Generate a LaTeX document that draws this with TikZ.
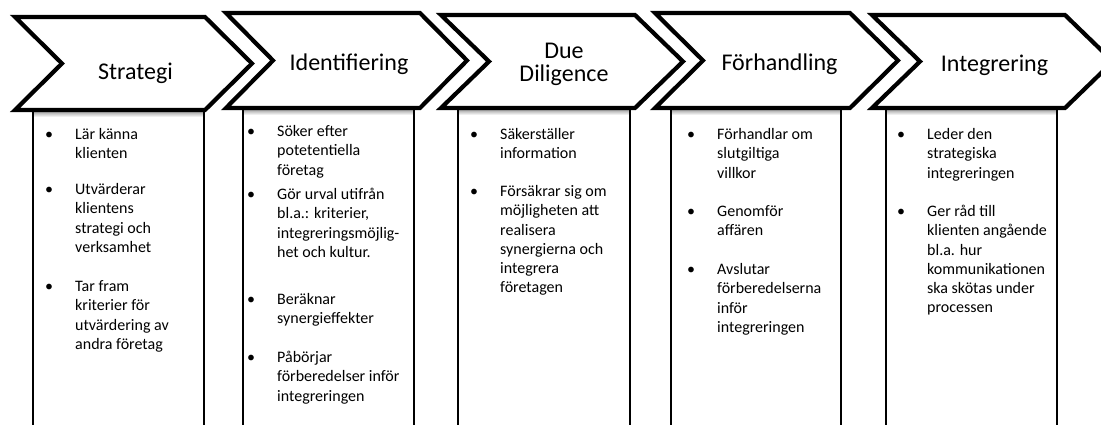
\documentclass[tikz,border=0pt]{standalone}
\usepackage{fontspec}
\setmainfont{Carlito}
\newcommand\bulletitem[1]{\begin{tabular}[t]{@{}l@{}}\llap{•\hspace{22pt}}#1\end{tabular}}
\begin{document}
\begin{tikzpicture}[x=1pt,y=-1pt,
  chev/.style={draw=black, line width=4.2pt, fill=white, line join=miter},
  colbox/.style={draw=black, line width=2.4pt, fill=white},
  boxshadow/.style={top color=black!45, bottom color=white},
  phase/.style={inner sep=0pt, font=\fontsize{24}{23.4}\selectfont, anchor=base},
  itm/.style={inner sep=0pt, font=\fontsize{16}{19.3}\selectfont, anchor=base west}]
\useasboundingbox (0,0) rectangle (1101,425);
\clip (0,0) rectangle (1101,425);
\fill[white] (0,0) rectangle (1101,425);

% columns under the arrows
\draw[colbox] (33,110) rectangle (204,440);
\draw[colbox] (243,108) rectangle (414,440);
\draw[colbox] (458,108) rectangle (630,440);
\draw[colbox] (671,108) rectangle (841,440);
\draw[colbox] (886,108) rectangle (1057,440);
\shade[boxshadow] (34.2,110) rectangle (202.8,117);
\shade[boxshadow] (244.2,108) rectangle (412.8,115);
\shade[boxshadow] (459.2,108) rectangle (628.8,115);
\shade[boxshadow] (672.2,108) rectangle (839.8,115);
\shade[boxshadow] (887.2,108) rectangle (1055.8,115);

% process arrows
\draw[chev] (15,17) -- (205,17) -- (252,63.5) -- (205,110) -- (15,110) -- (62,63.5) -- cycle;
\draw[chev] (226,13) -- (420,13) -- (467,60.5) -- (420,108) -- (226,108) -- (273,60.5) -- cycle;
\draw[chev] (441,15) -- (635,15) -- (683,61.5) -- (635,108) -- (441,108) -- (489,61.5) -- cycle;
\draw[chev] (655,13) -- (850,13) -- (898,60.5) -- (850,108) -- (655,108) -- (703,60.5) -- cycle;
\draw[chev] (872,15) -- (1065,15) -- (1113,61.5) -- (1065,108) -- (872,108) -- (920,61.5) -- cycle;

% phase titles
\node[phase] (t1) at (135.5,80) {Strategi};
\node[phase] (t2) at (349,70.7) {Identifiering};
\node[phase] (t3) at (564,58.3) {\begin{tabular}[t]{@{}c@{}}Due\\Diligence\end{tabular}};
\node[phase] (t4) at (779.5,70.7) {Förhandling};
\node[phase] (t5) at (994.5,71.7) {Integrering};

% activities
\node[itm] (a1) at (75,139.5) {\bulletitem{Lär känna\\klienten}};
\node[itm] (a2) at (75,194.5) {\bulletitem{Utvärderar\\klientens\\strategi och\\verksamhet}};
\node[itm] (a3) at (75,291.5) {\bulletitem{Tar fram\\kriterier för\\utvärdering av\\andra företag}};

\node[itm] (b1) at (277,136.5) {\bulletitem{Söker efter\\potetentiella\\företag}};
\node[itm] (b2) at (277,199.5) {\bulletitem{Gör urval utifrån\\bl.a.: kriterier,\\integreringsmöjlig-\\het och kultur.}};
\node[itm] (b3) at (277,304.5) {\bulletitem{Beräknar\\synergieffekter}};
\node[itm] (b4) at (277,362.5) {\bulletitem{Påbörjar\\förberedelser inför\\integreringen}};

\node[itm] (c1) at (500,139.5) {\bulletitem{Säkerställer\\information}};
\node[itm] (c2) at (500,196.5) {\bulletitem{Försäkrar sig om\\möjligheten att\\realisera\\synergierna och\\integrera\\företagen}};

\node[itm] (d1) at (717,139.5) {\bulletitem{Förhandlar om\\slutgiltiga\\villkor}};
\node[itm] (d2) at (717,216.5) {\bulletitem{Genomför\\affären}};
\node[itm] (d3) at (717,274.5) {\bulletitem{Avslutar\\förberedelserna\\inför\\integreringen}};

\node[itm] (e1) at (927,139.5) {\bulletitem{Leder den\\strategiska\\integreringen}};
\node[itm] (e2) at (927,216.5) {\bulletitem{Ger råd till\\klienten angående\\bl.a. hur\\kommunikationen\\ska skötas under\\processen}};
\end{tikzpicture}
\end{document}
